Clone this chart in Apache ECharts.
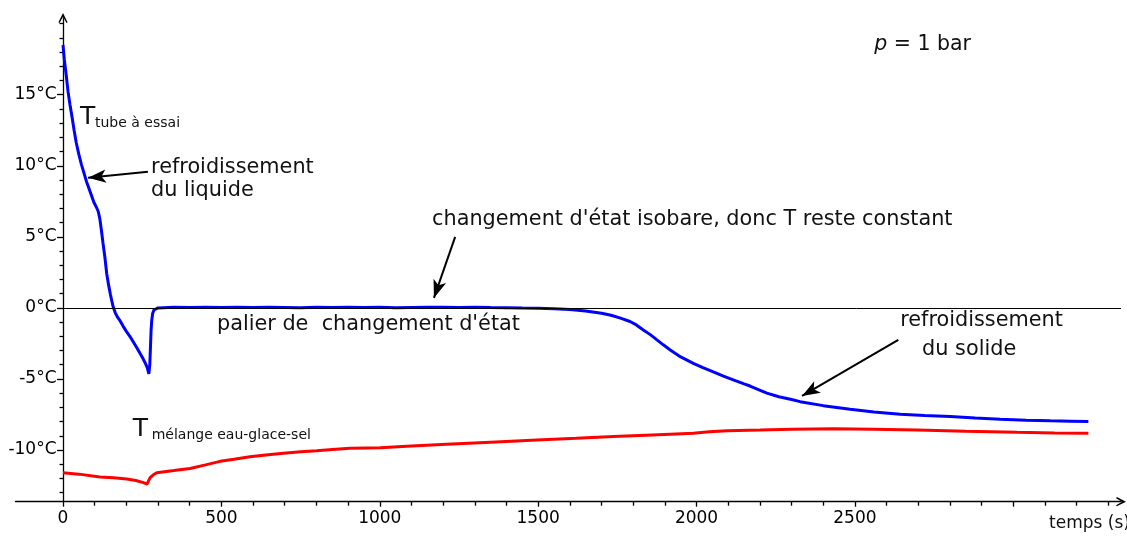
<!DOCTYPE html>
<html><head><meta charset="utf-8">
<script src="https://cdn.jsdelivr.net/npm/echarts@6/dist/echarts.min.js"></script>
<style>html,body{margin:0;padding:0;background:#fff}#c{width:1127px;height:536px}</style>
</head><body><div id="c"></div>
<script>
// ---- data ----
const tubeTime = [0,4,10,16,22,28,35,42,50,58,66,74,82,90,98,105,111,116,121,126,132,138,144,150,158,165,172,180,190,200,211,222,233,243,252,260,266,271,274,276,278,280,283,287,293,300,
  350,400,450,500,550,600,650,700,750,800,850,900,950,1000,1050,1100,1150,1200,1250,1300,1350,1400,1450,1500,1550,1600,1650,1700,1730,1760,1790,1810,1832,1855,1875,1895,1917,1950,1990,2020,2053,2085,2116,2150,2169,2201,2222,2260,2300,2327,2400,2485,2560,2643,2720,2801,2880,2959,3040,3117,3180,3237];
const tubeTemp = [18.5,17.5,16.4,15.2,14.3,13.5,12.5,11.6,10.8,10.1,9.5,8.9,8.4,7.9,7.4,7.1,6.8,6.3,5.5,4.6,3.6,2.4,1.6,0.9,0.1,-0.35,-0.65,-0.9,-1.3,-1.65,-2.0,-2.4,-2.8,-3.2,-3.55,-3.9,-4.2,-4.65,-4.0,-2.8,-1.6,-0.9,-0.4,-0.15,-0.05,0.0,
  0.04,0.02,0.05,0.03,0.04,0.02,0.05,0.03,0.01,0.04,0.02,0.05,0.03,0.04,0.01,0.03,0.05,0.04,0.03,0.04,0.02,0.01,-0.01,-0.02,-0.06,-0.12,-0.22,-0.38,-0.52,-0.72,-0.96,-1.2,-1.55,-1.9,-2.25,-2.6,-2.96,-3.45,-3.9,-4.2,-4.5,-4.8,-5.07,-5.35,-5.5,-5.8,-6.0,-6.25,-6.45,-6.6,-6.88,-7.13,-7.32,-7.49,-7.58,-7.65,-7.75,-7.84,-7.9,-7.94,-7.97,-8.0];
const melTime = [0,50,117,160,201,230,254,265,271,275,285,296,350,401,450,496,540,590,640,696,750,801,850,906,960,1001,1100,1211,1350,1496,1620,1737,1860,1990,2040,2096,2201,2300,2432,2560,2696,2850,3011,3130,3237];
const melTemp = [-11.6,-11.7,-11.9,-11.95,-12.04,-12.15,-12.3,-12.4,-12.3,-11.95,-11.75,-11.6,-11.45,-11.3,-11.05,-10.8,-10.65,-10.47,-10.35,-10.23,-10.13,-10.05,-9.97,-9.88,-9.86,-9.85,-9.72,-9.6,-9.45,-9.3,-9.18,-9.06,-8.95,-8.83,-8.72,-8.64,-8.6,-8.55,-8.5,-8.55,-8.6,-8.68,-8.76,-8.8,-8.83];

const yLabelValues = [-10,-5,0,5,10,15];
const yMinorValues = [-13,-12,-11,-9,-8,-7,-6,-4,-3,-2,-1,1,2,3,4,6,7,8,9,11,12,13,14,16,17,18,19,20];
const xLabelValues = [0,500,1000,1500,2000,2500];
const xMajorValues = [0,500,1000,1500,2000,2500,3000];
const xMinorValues = [100,200,300,400,600,700,800,900,1100,1200,1300,1400,1600,1700,1800,1900,2100,2200,2300,2400,2600,2700,2800,2900,3100,3200,3300];

// ---- layout ----
const X_MIN = -150, X_MAX = 3340, Y_MIN = -13.64, Y_MAX = 20.4;
const FONT = 'DejaVu Sans';
const chevron = 'path://M5,0 L10,10 L8.8,10.9 L5,4.2 L1.2,10.9 L0,10 Z';

const zip = (a, b) => a.map((v, i) => [v, b[i]]);

const chart = echarts.init(document.getElementById('c'), null, {renderer: 'canvas'});

const baseX = {type: 'value', min: X_MIN, max: X_MAX, position: 'bottom', splitLine: {show: false}};
const baseY = {type: 'value', min: Y_MIN, max: Y_MAX, position: 'left', splitLine: {show: false}};

chart.setOption({
  animation: false,
  backgroundColor: '#ffffff',
  grid: {left: 15.5, right: 6, top: 18, bottom: 34.3, containLabel: false, outerBoundsMode: 'none'},
  xAxis: [
    Object.assign({}, baseX, {
      axisLine: {show: true, onZero: false, symbol: ['none', chevron], symbolSize: [12, 10], lineStyle: {color: '#000', width: 1.3}},
      axisTick: {show: true, customValues: xMajorValues, length: 5, lineStyle: {color: '#000', width: 1.3}},
      axisLabel: {show: true, customValues: xLabelValues, color: '#000', fontFamily: FONT, fontSize: 17, margin: 8,
        formatter: v => String(v)}
    }),
    Object.assign({}, baseX, {
      axisLine: {show: false, onZero: false},
      axisTick: {show: true, customValues: xMinorValues, length: 4, lineStyle: {color: '#000', width: 1.3}},
      axisLabel: {show: false}
    })
  ],
  yAxis: [
    Object.assign({}, baseY, {
      axisLine: {show: true, onZero: true, symbol: ['none', chevron], symbolSize: [12, 10], lineStyle: {color: '#000', width: 1.3}},
      axisTick: {show: true, customValues: yLabelValues, length: 6, lineStyle: {color: '#000', width: 1.3}},
      axisLabel: {show: false}
    }),
    Object.assign({}, baseY, {
      axisLine: {show: false, onZero: true},
      axisTick: {show: true, customValues: yMinorValues, length: 3.5, lineStyle: {color: '#000', width: 1.3}},
      axisLabel: {show: false}
    })
  ],
  series: [
    {
      name: 'T mélange', type: 'line', xAxisIndex: 0, yAxisIndex: 0,
      data: zip(melTime, melTemp), showSymbol: false, symbol: 'none', z: 2,
      lineStyle: {color: '#ff0000', width: 3}, silent: true,
      markLine: {
        silent: true, symbol: ['none', 'none'], label: {show: false},
        lineStyle: {color: '#000', width: 1, type: 'solid'},
        data: [[{coord: [0, 0]}, {coord: [X_MAX, 0]}]]
      }
    },
    {
      name: 'T tube', type: 'line', xAxisIndex: 0, yAxisIndex: 0,
      data: zip(tubeTime, tubeTemp), showSymbol: false, symbol: 'none', z: 3,
      lineStyle: {color: '#0000ff', width: 3}, silent: true,
      markLine: {
        silent: true, symbol: ['none', 'arrow'], symbolSize: [10, 18], label: {show: false},
        lineStyle: {color: '#000', width: 2, type: 'solid'},
        itemStyle: {color: '#000'},
        data: [
          [{coord: [268, 9.58]}, {coord: [79, 9.15]}],
          [{coord: [1238, 5.0]}, {coord: [1171, 0.7]}],
          [{coord: [2637, -2.25]}, {coord: [2333, -6.2]}]
        ]
      }
    }
  ]
});

// ---- y tick labels (drawn next to the y axis, which sits at t = 0) ----
const toPx = (t, v) => chart.convertToPixel({xAxisIndex: 0, yAxisIndex: 0}, [t, v]);
const yLabelGraphics = yLabelValues.map(v => {
  const p = toPx(0, v);
  return {type: 'text', x: p[0] - 6.5, y: p[1], silent: true, z: 10,
    style: {text: v + '°C', fill: '#000', fontFamily: FONT, fontSize: 17, align: 'right', verticalAlign: 'middle'}};
});

// ---- annotation texts, anchored in data coordinates ----
const notes = [
  {t: 54,   v: 13.4,  text: 'T', size: 25},
  {t: 101,  v: 13.0,  text: 'tube à essai', size: 14},
  {t: 278,  v: 9.86,  text: 'refroidissement', size: 20.8},
  {t: 278,  v: 8.24,  text: 'du liquide', size: 20.8},
  {t: 1165, v: 6.2,   text: "changement d'état isobare, donc T reste constant", size: 20.8},
  {t: 486,  v: -1.2,  text: "palier de  changement d'état", size: 20.8},
  {t: 2643, v: -0.92, text: 'refroidissement', size: 20.8},
  {t: 2712, v: -2.96, text: 'du solide', size: 20.8},
  {t: 220,  v: -8.54, text: 'T', size: 25},
  {t: 280,  v: -9.0,  text: 'mélange eau-glace-sel', size: 14},
  {t: 2561, v: 18.5,  text: '{i|p} = 1 bar', size: 20.5, rich: true},
  {t: 3113, v: -15.2, text: 'temps (s)', size: 17}
];
const noteGraphics = notes.map(n => {
  const p = toPx(n.t, n.v);
  const style = {text: n.text, x: 0, y: 0, fill: '#111', fontFamily: FONT, fontSize: n.size,
    align: 'left', verticalAlign: 'middle'};
  if (n.rich) style.rich = {i: {fontStyle: 'italic', fontFamily: FONT, fontSize: n.size, fill: '#111'}};
  return {type: 'text', x: p[0], y: p[1], silent: true, z: 10, style: style};
});
chart.setOption({graphic: yLabelGraphics.concat(noteGraphics)});
</script>
</body></html>
